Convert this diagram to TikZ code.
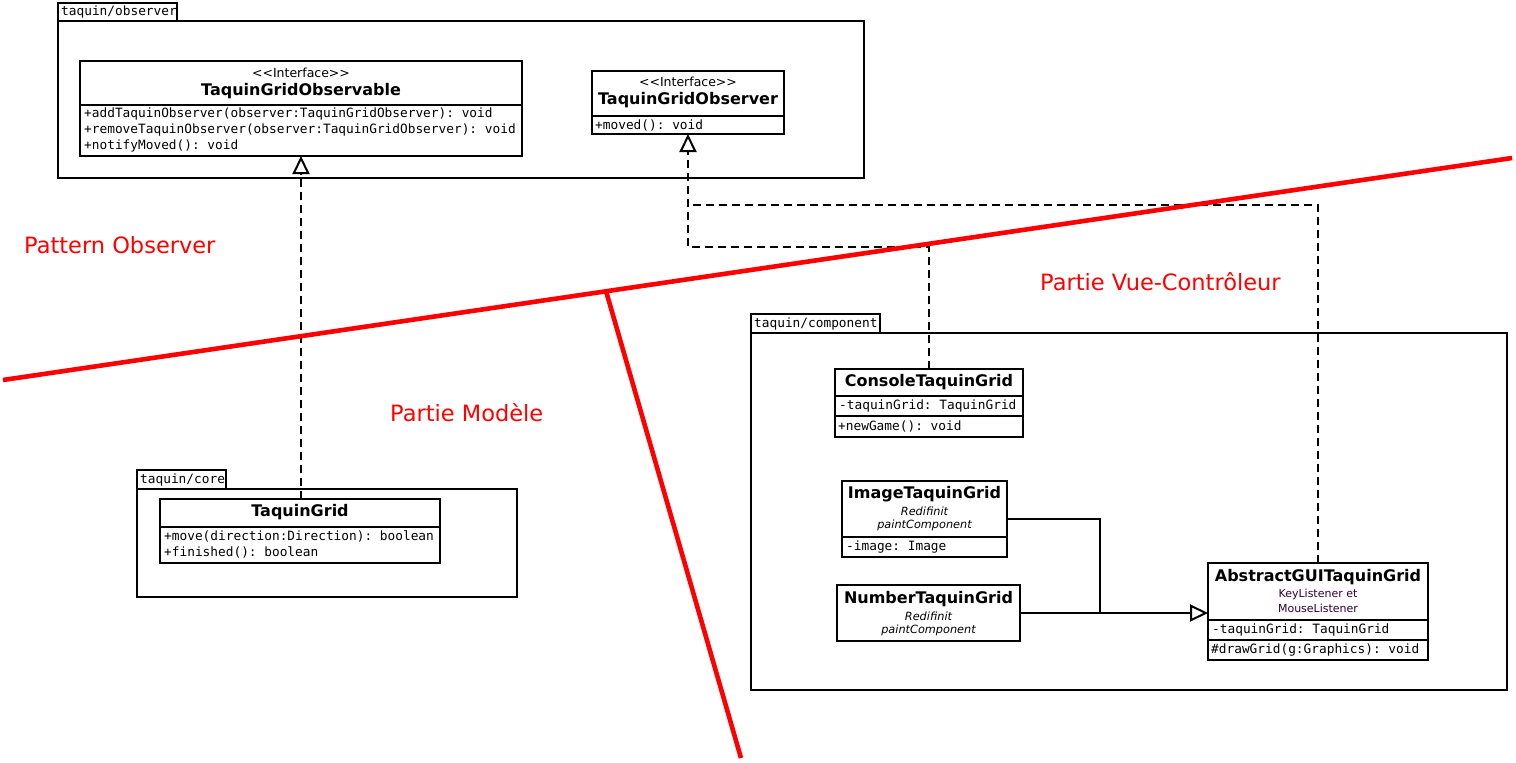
\documentclass[tikz,border=0pt]{standalone}
\usepackage{fontspec}
\setmainfont{DejaVu Sans}
\setmonofont{DejaVu Sans Mono}
\usetikzlibrary{arrows.meta}
\definecolor{notecol}{RGB}{50,0,50}
\tikzset{
  box/.style={draw, line width=2.2pt, inner sep=0pt, outer sep=0pt},
  mono/.style={font=\ttfamily\fontsize{12.8}{14}\selectfont, inner sep=0pt, anchor=west},
  cname/.style={font=\bfseries\fontsize{16}{18}\selectfont, inner sep=0pt},
  stereo/.style={font=\fontsize{12.5}{14}\selectfont, inner sep=0pt},
  notei/.style={font=\itshape\fontsize{11.3}{12}\selectfont, inner sep=0pt},
  noten/.style={font=\fontsize{11}{12}\selectfont, inner sep=0pt, text=notecol},
  redtext/.style={text=red, font=\fontsize{22.5}{26}\selectfont, inner sep=0pt, anchor=west},
  redline/.style={red, line width=4.6pt},
  dep/.style={dash pattern=on 8pt off 5pt, line width=2.2pt},
  divider/.style={line width=2.2pt},
  realize/.style={-{Triangle[open, length=18pt, width=17pt, line width=2pt]}},
  genarrow/.style={line width=2.2pt, -{Triangle[open, length=18pt, width=17pt, line width=2pt]}}
}
\begin{document}
\begin{tikzpicture}[x=1pt, y=-1pt]
\useasboundingbox (0,0) rectangle (1516,763);
\fill[white] (0,0) rectangle (1516,763);

% ---------- package taquin/observer ----------
\node[box, minimum width=119pt, minimum height=18pt] (ptabobs) at (117.5,12) {};
\node[mono] (ptabobst) at (61,12) {taquin/observer};
\node[box, minimum width=806pt, minimum height=157pt] (pobs) at (461,99.5) {};

% TaquinGridObservable
\node[box, minimum width=442pt, minimum height=95pt] (obsv) at (301,108.5) {};
\draw[divider] (80,105) -- (522,105);
\node[stereo] (obsvst) at (301,73) {{<}{<}Interface{>}{>}};
\node[cname] (obsvn) at (301,91) {TaquinGridObservable};
\node[mono] (obsvm1) at (84,114) {+addTaquinObserver(observer:TaquinGridObserver): void};
\node[mono] (obsvm2) at (84,130) {+removeTaquinObserver(observer:TaquinGridObserver): void};
\node[mono] (obsvm3) at (84,146) {+notifyMoved(): void};

% TaquinGridObserver
\node[box, minimum width=192pt, minimum height=63pt] (obsr) at (688,102.5) {};
\draw[divider] (592,116) -- (784,116);
\node[stereo] (obsrst) at (688,82) {{<}{<}Interface{>}{>}};
\node[cname] (obsrn) at (688,100) {TaquinGridObserver};
\node[mono] (obsrm1) at (595,125) {+moved(): void};

% ---------- package taquin/core ----------
\node[box, minimum width=89pt, minimum height=19pt] (ptabcore) at (181.5,479.5) {};
\node[mono] (ptabcoret) at (140,480) {taquin/core};
\node[box, minimum width=380pt, minimum height=108pt] (pcore) at (327,543) {};

% TaquinGrid
\node[box, fill=white, minimum width=280pt, minimum height=64pt] (tg) at (300,531) {};
\draw[divider] (160,527) -- (440,527);
\node[cname] (tgn) at (300,512) {TaquinGrid};
\node[mono] (tgm1) at (164,536) {+move(direction:Direction): boolean};
\node[mono] (tgm2) at (164,552) {+finished(): boolean};

% ---------- package taquin/component ----------
\node[box, minimum width=129pt, minimum height=19pt] (ptabcomp) at (815.5,323.5) {};
\node[mono] (ptabcompt) at (754,324) {taquin/component};
\node[box, minimum width=756pt, minimum height=357pt] (pcomp) at (1129,511.5) {};

% ConsoleTaquinGrid
\node[box, fill=white, minimum width=188pt, minimum height=68pt] (console) at (929,403) {};
\draw[divider] (835,396) -- (1023,396);
\draw[divider] (835,416) -- (1023,416);
\node[cname] (consolen) at (929,382) {ConsoleTaquinGrid};
\node[mono] (consolea) at (839,406) {-taquinGrid: TaquinGrid};
\node[mono] (consolem) at (838,426) {+newGame(): void};

% ImageTaquinGrid
\node[box, fill=white, minimum width=165pt, minimum height=76pt] (img) at (924.5,519) {};
\draw[divider] (842,537) -- (1007,537);
\node[cname] (imgn) at (924.5,494) {ImageTaquinGrid};
\node[notei] (imgr1) at (924.5,511) {Redifinit};
\node[notei] (imgr2) at (924.5,525) {paintComponent};
\node[mono] (imga) at (846,547) {-image: Image};

% NumberTaquinGrid
\node[box, fill=white, minimum width=183pt, minimum height=56pt] (num) at (928.5,613) {};
\node[cname] (numn) at (928.5,599) {NumberTaquinGrid};
\node[notei] (numr1) at (928.5,616) {Redifinit};
\node[notei] (numr2) at (928.5,630) {paintComponent};

% AbstractGUITaquinGrid
\node[box, fill=white, minimum width=220pt, minimum height=97pt] (agui) at (1318,611.5) {};
\draw[divider] (1208,620) -- (1428,620);
\draw[divider] (1208,640) -- (1428,640);
\node[cname] (aguin) at (1318,577) {AbstractGUITaquinGrid};
\node[noten] (agui1) at (1318,594) {KeyListener et};
\node[noten] (agui2) at (1318,608) {MouseListener};
\node[mono] (aguia) at (1212,630) {-taquinGrid: TaquinGrid};
\node[mono] (aguim) at (1211,650) {\#drawGrid(g:Graphics): void};

% ---------- connectors ----------
\draw[dep, realize] (tg.north -| obsv.south) -- (obsv.south);
\draw[dep, realize] (console.north) |- ([yshift=-113pt]obsr.south) -- (obsr.south);
\draw[dep] (agui.north) |- ([yshift=-71pt]obsr.south);

\coordinate (join) at (1100,613);
\draw[divider] (img.east) -| (join);
\draw[divider] (num.east) -- (join);
\draw[genarrow] (join) -- (agui.west |- join);

% ---------- red overlay ----------
\draw[redline] (3,380) -- (1512,158);
\draw[redline] (606,291) -- (741,758);
\node[redtext] (lpo) at (24,245) {Pattern Observer};
\node[redtext] (lpm) at (390,413) {Partie Modèle};
\node[redtext] (lpvc) at (1040,282) {Partie Vue-Contrôleur};
\end{tikzpicture}
\end{document}
